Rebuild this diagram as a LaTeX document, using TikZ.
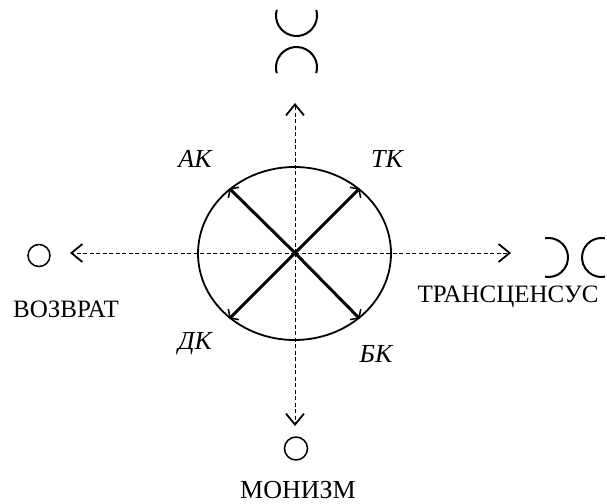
\documentclass[tikz,border=0pt]{standalone}
\usepackage{fontspec}
\setmainfont{Liberation Serif}
\usetikzlibrary{arrows.meta,shapes.geometric}
\begin{document}
\begin{tikzpicture}[x=1pt,y=1pt,
  lbl/.style={font=\fontsize{25}{28}\selectfont, inner sep=0pt},
  ilbl/.style={font=\fontsize{26}{28}\selectfont\itshape, inner sep=0pt},
  dashline/.style={line width=0.8pt, dash pattern=on 4pt off 2.5pt,
    -{Straight Barb[length=11pt,width=18pt,line width=1.8pt]}},
  diag/.style={line width=3pt, -{Straight Barb[length=5pt,width=15pt,line width=1.5pt]}},
  mark circle/.style={circle, draw, line width=1.5pt, minimum size=22pt, inner sep=0pt},
  symarc/.style={line width=2pt}
]
\useasboundingbox (0,0) rectangle (607,-503);

% central ellipse
\node[draw, ellipse, line width=1.8pt, minimum width=193pt, minimum height=173pt, inner sep=0pt] (e) at (294.5,-253.5) {};
\coordinate (c) at (295,-253);

% diagonal arrows
\draw[diag] (c) -- (e.135);
\draw[diag] (c) -- (e.45);
\draw[diag] (c) -- (e.225);
\draw[diag] (c) -- (e.-45);

% dashed axes
\coordinate (lt) at (70,-253);
\coordinate (rt) at (511,-253);
\coordinate (tt) at (295,-103);
\coordinate (bt) at (295,-426);
\draw[dashline] (c) -- (lt);
\draw[dashline] (c) -- (rt);
\draw[dashline] (c) -- (tt);
\draw[dashline] (c) -- (bt);

% end symbols
\node[mark circle] (vc) at (39,-255.5) {};
\node[mark circle, minimum size=23pt] (mc) at (296,-448.5) {};
\draw[symarc] (296.5,-15.5) ++(164:20.5) arc[start angle=164, end angle=376, radius=20.5];
\draw[symarc] (296.5,-67.5) ++(-16:20.5) arc[start angle=-16, end angle=196, radius=20.5];
\draw[symarc] (548.5,-257.5) ++(100:19.5) arc[start angle=100, end angle=-100, radius=19.5];
\draw[symarc] (601.5,-257.5) ++(80:19.5) arc[start angle=80, end angle=280, radius=19.5];

% labels
\node[ilbl] (ak) at (195,-159) {АК};
\node[ilbl] (tk) at (387,-159) {ТК};
\node[ilbl] (dk) at (195,-344) {ДК};
\node[ilbl] (bk) at (376,-354) {БК};
\node[lbl] (vozvrat) at (66,-309.5) {ВОЗВРАТ};
\node[lbl] (trans) at (508,-297) {ТРАНСЦЕНСУС};
\node[lbl, font=\fontsize{26}{28}\selectfont] (monizm) at (298,-490) {МОНИЗМ};
\end{tikzpicture}
\end{document}
